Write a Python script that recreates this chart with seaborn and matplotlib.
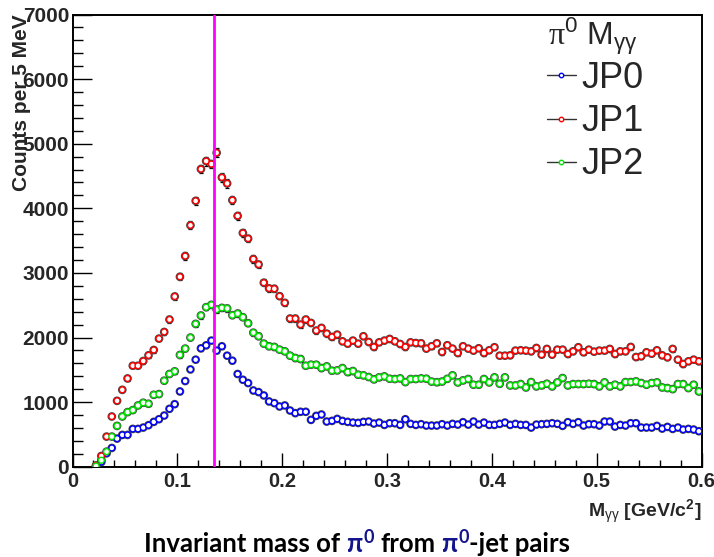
import numpy as np
import pandas as pd
import matplotlib
matplotlib.use("Agg")
import matplotlib.pyplot as plt
import matplotlib.patheffects as pe
import matplotlib.transforms as mtransforms
import seaborn as sns
from matplotlib.lines import Line2D
from matplotlib.ticker import MultipleLocator, FuncFormatter

# Di-photon invariant mass spectra, 5 MeV bins starting at 20 MeV
bin_low = 0.020
bin_width = 0.005

jp0 = [10, 73, 207, 290, 435, 492, 492, 585, 585, 606, 642, 694, 735, 792, 896, 968,
       1165, 1326, 1506, 1657, 1832, 1879, 1952, 1797, 1864, 1719, 1641, 1435, 1346,
       1295, 1180, 1155, 1103, 1010, 984, 932, 948, 870, 829, 850, 850, 725, 787, 808,
       699, 709, 740, 709, 694, 683, 678, 694, 699, 668, 683, 647, 673, 673, 647, 735,
       663, 647, 658, 637, 637, 637, 658, 637, 663, 652, 689, 652, 699, 652, 683, 647,
       647, 663, 683, 647, 663, 647, 647, 606, 652, 658, 663, 673, 663, 632, 689, 663,
       689, 637, 658, 658, 637, 699, 699, 621, 647, 637, 673, 673, 606, 606, 606, 632,
       590, 616, 585, 606, 575, 585, 575, 549]

jp1 = [20, 166, 466, 777, 1020, 1190, 1366, 1563, 1563, 1636, 1724, 1807, 1983, 2086,
       2278, 2635, 2940, 3261, 3737, 4115, 4607, 4731, 4685, 4860, 4478, 4385, 4126,
       3882, 3618, 3531, 3214, 3130, 2848, 2760, 2755, 2640, 2537, 2293, 2293, 2200,
       2278, 2226, 2107, 2149, 2060, 2009, 2045, 1941, 1905, 1952, 1905, 2019, 1931,
       1854, 1925, 1952, 1978, 1941, 1900, 1854, 1925, 1915, 1910, 1828, 1864, 1910,
       1776, 1880, 1828, 1760, 1864, 1828, 1797, 1833, 1760, 1802, 1849, 1719, 1719,
       1724, 1797, 1802, 1797, 1786, 1838, 1735, 1823, 1735, 1812, 1812, 1745, 1786,
       1849, 1771, 1812, 1781, 1797, 1797, 1823, 1745, 1786, 1786, 1854, 1698, 1709,
       1771, 1750, 1802, 1724, 1693, 1823, 1657, 1590, 1631, 1657, 1631]

jp2 = [10, 100, 233, 466, 632, 777, 845, 876, 948, 990, 974, 1113, 1124, 1331, 1435,
       1476, 1730, 1828, 1999, 2211, 2340, 2469, 2506, 2433, 2459, 2450, 2345, 2371,
       2314, 2221, 2075, 2019, 1905, 1864, 1854, 1812, 1786, 1719, 1683, 1667, 1563,
       1579, 1579, 1527, 1553, 1486, 1491, 1527, 1465, 1481, 1424, 1414, 1388, 1352,
       1383, 1398, 1362, 1357, 1367, 1310, 1357, 1357, 1367, 1362, 1318, 1308, 1318,
       1360, 1414, 1305, 1336, 1357, 1269, 1269, 1357, 1305, 1383, 1284, 1383, 1258,
       1258, 1279, 1227, 1310, 1243, 1258, 1284, 1243, 1305, 1372, 1258, 1279, 1279,
       1279, 1284, 1279, 1243, 1305, 1243, 1269, 1243, 1310, 1310, 1321, 1295, 1269,
       1295, 1305, 1227, 1217, 1201, 1279, 1279, 1217, 1269, 1165]

triggers = ["JP0", "JP1", "JP2"]
colors = {"JP0": "#0000FF", "JP1": "#FF0000", "JP2": "#00E600"}
pi0_mass = 0.135

mass = bin_low + bin_width * (np.arange(len(jp0)) + 0.5)

df = pd.concat([
    pd.DataFrame({"mass": mass, "counts": vals, "trigger": name})
    for name, vals in zip(triggers, [jp0, jp1, jp2])
], ignore_index=True)

sns.set_theme(style="white")
plt.rcParams["font.family"] = ["Liberation Sans", "DejaVu Sans"]
plt.rcParams["mathtext.fontset"] = "custom"
plt.rcParams["mathtext.rm"] = "Liberation Serif"
plt.rcParams["mathtext.it"] = "Liberation Sans"
plt.rcParams["mathtext.sf"] = "Liberation Sans"
plt.rcParams["mathtext.bf"] = "Liberation Sans:bold"

W, H = 714, 557
fig = plt.figure(figsize=(W / 100, H / 100), dpi=100)
ax = fig.add_axes([72.5 / W, 1 - 466.7 / H, (701.5 - 72.5) / W, (466.7 - 14.5) / H])

# statistical error bars
for name in triggers:
    sub = df[df.trigger == name]
    ax.errorbar(sub.mass, sub.counts, yerr=np.sqrt(sub.counts), fmt="none",
                ecolor="black", elinewidth=0.9, capsize=1.6, capthick=0.9, zorder=2)

sns.scatterplot(data=df, x="mass", y="counts", hue="trigger", hue_order=triggers,
                palette=colors, marker="o", s=18, linewidth=1.0, legend=False,
                ax=ax, zorder=3)
pc = ax.collections[-1]
pc.set_edgecolors(pc.get_facecolors())
pc.set_facecolors("white")
pc.set_path_effects([pe.Stroke(linewidth=2.0, foreground="#454545"), pe.Normal()])

ax.axvline(pi0_mass, color="#FF00FF", lw=2, zorder=5)

ax.set_xlim(0, 0.6)
ax.set_ylim(0, 7000)
ax.xaxis.set_major_locator(MultipleLocator(0.1))
ax.xaxis.set_minor_locator(MultipleLocator(0.02))
ax.yaxis.set_major_locator(MultipleLocator(1000))
ax.yaxis.set_minor_locator(MultipleLocator(200))
ax.xaxis.set_major_formatter(FuncFormatter(lambda v, p: f"{v:g}"))
ax.tick_params(which="both", direction="in", left=True, bottom=True, top=False,
               right=False, width=1.0, color="black")
ax.tick_params(axis="y", which="major", length=14, pad=2.5, labelsize=15)
ax.tick_params(axis="y", which="minor", length=7)
ax.tick_params(axis="x", which="major", length=10, pad=3.5, labelsize=14.5)
ax.tick_params(axis="x", which="minor", length=5)
for sp in ax.spines.values():
    sp.set_color("black")
    sp.set_linewidth(1.4)

ax.set_ylabel("Counts per 5 MeV", fontsize=15, fontweight="bold", loc="top")
ax.yaxis.set_label_coords(-0.066, 1.0)
ax.set_xlabel(r"M$_{\gamma\gamma}$ [GeV/c$^{\mathbf{2}}$]", fontsize=14,
              fontweight="bold", loc="right")
ax.xaxis.set_label_coords(1.0, -0.068)

# legend: header text plus one entry per trigger
fig.text(548 / W, 1 - 45 / H, r"$\mathrm{\pi}^{\mathsf{0}}\ \mathsf{M}_{\gamma\gamma}$",
         fontsize=23, ha="left", va="baseline")
handles = [Line2D([0], [0], color="#333333", lw=1.0, marker="o", ms=3.2,
                  mfc="white", mec=colors[n], mew=1.0) for n in triggers]
leg = ax.legend(handles, triggers, loc="upper left", bbox_to_anchor=(0.755, 0.897),
                frameon=False, fontsize=26, handlelength=0.78,
                handletextpad=0.15, labelspacing=0.225, borderpad=0.0,
                borderaxespad=0.0)

fig.canvas.draw()
for lab in ax.get_xticklabels() + ax.get_yticklabels():
    lab.set_fontweight("bold")
# keep the last mass label inside the canvas
last = ax.get_xticklabels()[-1]
last.set_transform(last.get_transform()
                   + mtransforms.ScaledTranslation(-5 / 100, 0, fig.dpi_scale_trans))

# caption below the axes, with the pion symbols in navy
renderer = fig.canvas.get_renderer()
cap_family = ["Lato", "DejaVu Sans"]
cap_size = 18.5
navy = "#14148C"


def measure(s, size):
    t = fig.text(0, 0, s, fontsize=size, fontweight="bold", family=cap_family)
    w = t.get_window_extent(renderer).width
    t.remove()
    return w


space_w = measure("a a", cap_size) - measure("aa", cap_size)
pieces = [("Invariant mass of", "black", cap_size, 0, space_w),
          ("\u03c0", navy, cap_size, 0, 1),
          ("0", navy, cap_size * 0.7, 9, space_w),
          ("from", "black", cap_size, 0, space_w),
          ("\u03c0", navy, cap_size, 0, 1),
          ("0", navy, cap_size * 0.7, 9, 0),
          ("-jet pairs", "black", cap_size, 0, 0)]
widths = [measure(p[0], p[2]) for p in pieces]
total = sum(widths) + sum(p[4] for p in pieces[:-1])
x = 357 - total / 2
baseline = 552
for (s, c, size, dy, gap), w in zip(pieces, widths):
    fig.text(x / W, 1 - (baseline - dy) / H, s, fontsize=size, fontweight="bold",
             family=cap_family, color=c, va="baseline", ha="left")
    x += w + gap

fig.savefig("out.png", dpi=100)
